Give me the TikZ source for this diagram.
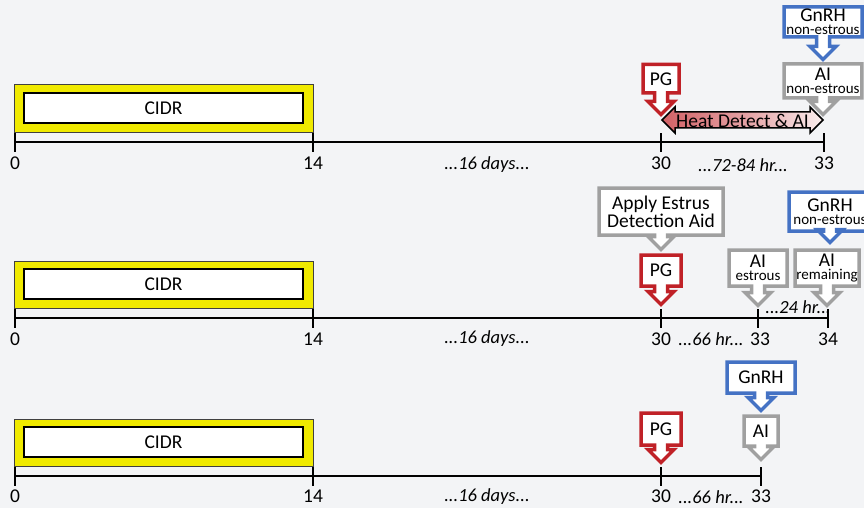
\documentclass[tikz,border=0pt]{standalone}
\usepackage{fontspec}
\setmainfont{Carlito}
\usepackage{tikz}

\definecolor{bggray}{RGB}{243,244,246}
\definecolor{cidryellow}{RGB}{240,234,0}
\definecolor{pgred}{RGB}{192,33,39}
\definecolor{gnblue}{RGB}{68,114,196}
\definecolor{aigray}{RGB}{160,160,160}
\definecolor{heatred}{RGB}{205,80,85}

\newcommand{\bigf}{\fontsize{19.5}{13}\selectfont}
\newcommand{\smallf}{\fontsize{15}{13}\selectfont}

% 矢印つきの吹き出し: 色, 名前, x, 先端y, 半幅, 上端, 下端, 文字
\newcommand{\callout}[8]{%
  \draw[callout, draw=#1] ({#3-#5},#6) -- ({#3+#5},#6) -- ({#3+#5},#7)
    -- ({#3+6.5},#7) -- ({#3+6.5},{#4-13}) -- ({#3+13},{#4-13}) -- (#3,#4)
    -- ({#3-13},{#4-13}) -- ({#3-6.5},{#4-13}) -- ({#3-6.5},#7) -- ({#3-#5},#7) -- cycle;
  \node[lbl, align=center] (#2) at (#3,{(#6+#7)/2}) {#8};}

\tikzset{
  callout/.style={line width=3.5pt, fill=white, line join=miter},
  lbl/.style={font=\bigf, inner sep=0pt},
  hr/.style={font=\fontsize{18.5}{20}\selectfont\itshape, inner sep=0pt},
  tick/.style={line width=2.5pt},
  tline/.style={line width=1.5pt}
}

\begin{document}
\begin{tikzpicture}[x=1pt, y=-1pt]
  \fill[bggray] (0,0) rectangle (864,508);
  \useasboundingbox (0,0) rectangle (864,508);
  \clip (0,0) rectangle (864,508);

  % CIDR
  \foreach \ly/\r in {142/1, 318/2, 476/3}{
    \draw[fill=cidryellow, draw=black!75, line width=1pt] (14,\ly-57) rectangle (313,\ly-10);
    \draw[fill=white, line width=1.5pt] (24,\ly-49) rectangle (303,\ly-19);
    \node[lbl] (cidr\r) at (163.5,\ly-34) {CIDR};
  }

  % 1段目
  \coordinate (a0) at (15,142);
  \coordinate (a14) at (313,142);
  \coordinate (a30) at (661,142);
  \coordinate (a33) at (824,142);
  \draw[tline] (a0) -- (a33);
  \foreach \p in {a0,a14,a30,a33} \draw[tick] (\p) ++(0,-9) -- ++(0,19);
  \node[lbl] (la0) at (15,163) {0};
  \node[lbl] (la14) at (313,163) {14};
  \node[lbl] (la30) at (661,163) {30};
  \node[lbl] (la33) at (824,163) {33};
  \node[hr] (days1) at (487,165) {...16 days...};
  \node[hr] (hr1) at (743,165) {...72-84 hr...};
  \draw[line width=1.5pt, left color=heatred!90, right color=heatred!10, middle color=heatred!55]
    (662,120) -- (675,107) -- (675,112) -- (810,112) -- (810,107) -- (823,120)
    -- (810,133) -- (810,128) -- (675,128) -- (675,133) -- cycle;
  \node[lbl] (heat) at (742.5,121) {Heat Detect \& AI};
  \callout{pgred}{pg1}{661}{114.5}{18}{64.5}{93}{PG}
  \callout{aigray}{ai1}{823}{114.5}{38.8}{63.8}{98}{AI\\{\smallf non-estrous}}
  \callout{gnblue}{gn1}{823}{59.5}{39}{6.8}{37}{GnRH\\{\smallf non-estrous}}

  % 2段目
  \coordinate (b0) at (15,318);
  \coordinate (b14) at (313,318);
  \coordinate (b30) at (661,318);
  \coordinate (b33) at (758,318);
  \coordinate (b34) at (828,318);
  \draw[tline] (b0) -- (b34);
  \foreach \p in {b0,b14,b30,b33,b34} \draw[tick] (\p) ++(0,-9) -- ++(0,19);
  \node[lbl] (lb0) at (15,339) {0};
  \node[lbl] (lb14) at (313,339) {14};
  \node[lbl] (lb30) at (661,339) {30};
  \node[lbl] (lb33) at (760,339) {33};
  \node[lbl] (lb34) at (828,339) {34};
  \node[hr] (days2) at (487,339) {...16 days...};
  \node[hr] (hr2) at (711,339) {...66 hr...};
  \node[hr] (hr2b) at (798,307) {...24 hr...};
  \callout{aigray}{aid2}{661}{249.5}{62}{188}{235}{Apply Estrus\\Detection Aid}
  \callout{pgred}{pg2}{661}{304.5}{20}{255}{286}{PG}
  \callout{aigray}{ai2a}{758}{305.5}{29}{250}{286}{AI\\{\smallf estrous}}
  \callout{aigray}{ai2b}{827}{305.5}{32}{250}{286}{AI\\{\smallf remaining}}
  \callout{gnblue}{gn2}{830}{242.5}{41}{192}{231}{GnRH\\{\smallf non-estrous}}

  % 3段目
  \coordinate (c0) at (15,476);
  \coordinate (c14) at (313,476);
  \coordinate (c30) at (661,476);
  \coordinate (c33) at (761,476);
  \draw[tline] (c0) -- (c33);
  \foreach \p in {c0,c14,c30,c33} \draw[tick] (\p) ++(0,-9) -- ++(0,19);
  \node[lbl] (lc0) at (15,496) {0};
  \node[lbl] (lc14) at (313,496) {14};
  \node[lbl] (lc30) at (661,496) {30};
  \node[lbl] (lc33) at (761,496) {33};
  \node[hr] (days3) at (487,497) {...16 days...};
  \node[hr] (hr3) at (711,497) {...66 hr...};
  \callout{pgred}{pg3}{661}{462.5}{20}{413}{445}{PG}
  \callout{aigray}{ai3}{761}{459.5}{17}{416}{446}{AI}
  \callout{gnblue}{gn3}{761}{410.5}{34}{362}{393}{GnRH}
\end{tikzpicture}
\end{document}
